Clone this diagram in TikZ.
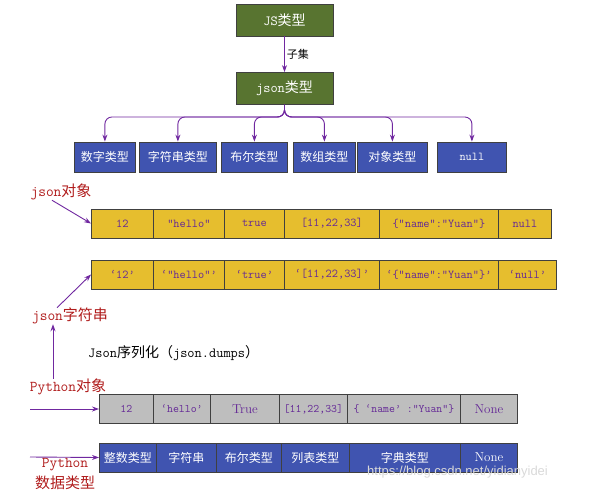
\documentclass[tikz,border=0pt]{standalone}
\usepackage{fontspec}
\newfontfamily\cjk{Noto Sans CJK SC}
\newfontfamily\wmfont{Liberation Sans}
\usepackage{tikz}
\usetikzlibrary{positioning, calc, arrows.meta}

\definecolor{jsgreen}{RGB}{88,116,48}
\definecolor{typeblue}{RGB}{64,84,176}
\definecolor{celly}{RGB}{230,190,46}
\definecolor{cellg}{RGB}{190,190,190}
\definecolor{arrpurple}{RGB}{112,40,160}
\definecolor{txtpurple}{RGB}{100,40,150}
\definecolor{labelred}{RGB}{176,28,28}

\tikzset{
	greenbox/.style = {draw=black!75, fill=jsgreen, text=white, minimum width=97, minimum height=32, inner sep=0pt, line width=0.8pt, font=\cjk\fontsize{14}{16}\selectfont},
	bluebox/.style = {draw=black!75, fill=typeblue, text=white, minimum height=30, inner sep=0pt, anchor=west, line width=0.8pt, font=\cjk\fontsize{12}{14}\selectfont},
	ycell/.style = {draw=black!75, fill=celly, text=txtpurple, minimum height=29, inner sep=0pt, anchor=west, line width=0.8pt, font=\ttfamily\fontsize{12}{14}\selectfont},
	gcell/.style = {draw=black!75, fill=cellg, text=txtpurple, minimum height=29, inner sep=0pt, anchor=west, line width=0.8pt, font=\ttfamily\fontsize{11.5}{13}\selectfont},
	redlabel/.style = {text=labelred, inner sep=0pt, font=\cjk\fontsize{15}{21}\selectfont},
	arr/.style = {-{Stealth[length=7pt,width=5pt]}, draw=arrpurple, line width=0.9pt}
}

\begin{document}
\begin{tikzpicture}[x=1pt, y=-1pt]
	\useasboundingbox (0,0) rectangle (596,497);

	% JS types down to json types
	\node[greenbox] (js) at (284.5,20) {{\ttfamily JS}类型};
	\node[greenbox] (json) at (284.5,88.5) {{\ttfamily json}类型};
	\draw[arr] (js) -- node[right, inner sep=2pt, font=\cjk\fontsize{11}{13}\selectfont] (subset) {子集} (json);

	\node[bluebox, minimum width=61] (tnum) at (74,157) {数字类型};
	\node[bluebox, minimum width=77] (tstr) at (139,157) {字符串类型};
	\node[bluebox, minimum width=66] (tbool) at (221,157) {布尔类型};
	\node[bluebox, minimum width=62] (tarr) at (293,157) {数组类型};
	\node[bluebox, minimum width=70] (tobj) at (357,157) {对象类型};
	\node[bluebox, minimum width=69] (tnull) at (437,157) {\ttfamily\fontsize{12}{14}\selectfont null};

	\coordinate (split) at (284.5,117);
	\foreach \t in {tnum,tstr,tbool,tarr,tobj,tnull}
		\draw[arr, rounded corners=7pt] (json.south) |- (split -| \t.north) -- (\t.north);

	% json objects
	\node[redlabel] (jobj) at (61,192) {{\ttfamily json}对象};
	\node[ycell, minimum width=62] (o1) at (91,223.5) {12};
	\node[ycell, minimum width=71] (o2) at (153,223.5) {"hello"};
	\node[ycell, minimum width=60] (o3) at (224,223.5) {true};
	\node[ycell, minimum width=95] (o4) at (284,223.5) {[11,22,33]};
	\node[ycell, minimum width=119] (o5) at (379,223.5) {\{"name":"Yuan"\}};
	\node[ycell, minimum width=53] (o6) at (498,223.5) {null};
	\draw[arr] ([xshift=-9pt]jobj.south) -- (o1.west);

	% json strings
	\node[ycell, minimum width=62] (s1) at (91,274.5) {‘12’};
	\node[ycell, minimum width=71] (s2) at (153,274.5) {‘"hello"’};
	\node[ycell, minimum width=60] (s3) at (224,274.5) {‘true’};
	\node[ycell, minimum width=95] (s4) at (284,274.5) {‘[11,22,33]’};
	\node[ycell, minimum width=119] (s5) at (379,274.5) {‘\{"name":"Yuan"\}’};
	\node[ycell, minimum width=58] (s6) at (498,274.5) {‘null’};
	\node[redlabel] (jstr) at (70,316) {{\ttfamily json}字符串};
	\draw[arr] ([xshift=-13pt]jstr.north) -- (s1.west);

	\node[anchor=west, inner sep=0pt, font=\cjk\fontsize{14}{16}\selectfont] (dumps) at (88,353) {{\ttfamily Json}序列化（{\ttfamily json.dumps}）};

	% python objects
	\node[redlabel] (pyobj) at (68,387) {{\ttfamily Python}对象};
	\draw[arr] ([xshift=-15pt]pyobj.north) -- ([xshift=-17pt]jstr.south);
	\node[gcell, minimum width=54] (g1) at (99,409) {12};
	\node[gcell, minimum width=57] (g2) at (153,409) {‘hello’};
	\node[gcell, minimum width=69] (g3) at (210,409) {\rmfamily\fontsize{13}{15}\selectfont True};
	\node[gcell, minimum width=68] (g4) at (279,409) {[11,22,33]};
	\node[gcell, minimum width=113] (g5) at (347,409) {\{ ‘name’ :"Yuan"\}};
	\node[gcell, minimum width=57] (g6) at (460,409) {\rmfamily\fontsize{13}{15}\selectfont None};
	\coordinate (gin) at (30,409);
	\draw[arr] (gin) -- (g1.west);

	% python data types
	\node[bluebox, minimum height=29, minimum width=57] (p1) at (99,457.5) {整数类型};
	\node[bluebox, minimum height=29, minimum width=60] (p2) at (156,457.5) {字符串};
	\node[bluebox, minimum height=29, minimum width=65] (p3) at (216,457.5) {布尔类型};
	\node[bluebox, minimum height=29, minimum width=68] (p4) at (281,457.5) {列表类型};
	\node[bluebox, minimum height=29, minimum width=111] (p5) at (349,457.5) {字典类型};
	\node[bluebox, minimum height=29, minimum width=57] (p6) at (460,457.5) {\rmfamily\fontsize{13}{15}\selectfont None};
	\coordinate (pin) at (30,457);
	\draw[arr] (pin) -- (p1.west);
	\node[redlabel, align=center] (pytype) at (65,474) {{\ttfamily Python}\\数据类型};

	\node[anchor=west, inner sep=0pt, text=gray!30, font=\wmfont\fontsize{13}{15}\selectfont] (wm) at (367,472) {https://blog.csdn.net/yidianyidei};
\end{tikzpicture}
\end{document}
